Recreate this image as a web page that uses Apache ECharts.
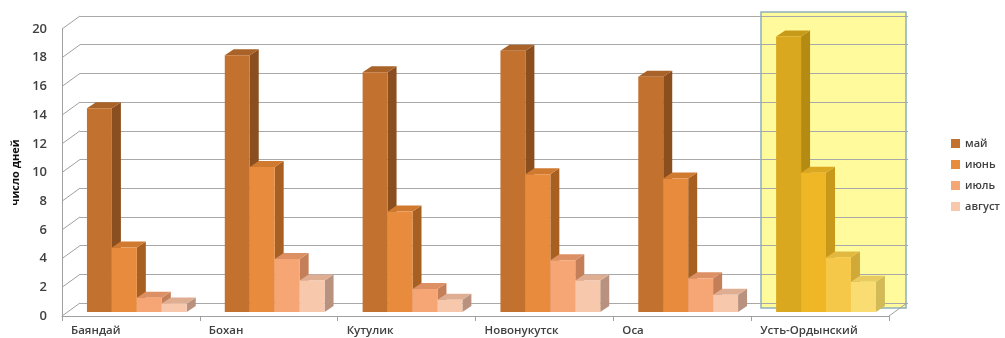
<!DOCTYPE html>
<html>
<head>
<meta charset="utf-8">
<script src="https://cdn.jsdelivr.net/npm/echarts@6/dist/echarts.min.js"></script>
<style>
  html, body { margin: 0; padding: 0; background: #fff; }
  #chart { width: 1005px; height: 338px; }
</style>
</head>
<body>
<div id="chart"></div>
<script>
// data
const categories = ["Баяндай", "Бохан", "Кутулик", "Новонукутск", "Оса", "Усть-Ордынский"];
const months = ["май", "июнь", "июль", "август"];
const may = [14.2, 17.9, 16.7, 18.2, 16.4, 19.2];
const june = [4.5, 10.1, 7.0, 9.6, 9.3, 9.7];
const july = [1.0, 3.7, 1.6, 3.6, 2.35, 3.8];
const august = [0.6, 2.2, 0.85, 2.2, 1.2, 2.1];
const yTicks = [0, 2, 4, 6, 8, 10, 12, 14, 16, 18, 20];
const highlighted = [5];

// pseudo 3d look
const WALL_DX = 18, WALL_DY = -13;
const BAR_DX = 9, BAR_DY = -6;
const FLOOR_LIFT = 4;
const BAR_START = 0.181, BAR_W = 0.181;

const palette = [
  { front: "#c3712f", side: "#8b4e1e", top: "#a96227", hl: ["#d9a81e", "#b48b12", "#c89a1a"] },
  { front: "#e98b3c", side: "#a85f22", top: "#d07a30", hl: ["#efb626", "#c8981b", "#dca822"] },
  { front: "#f6a574", side: "#c47e58", top: "#dc9064", hl: ["#f6c84a", "#d0a938", "#e2b840"] },
  { front: "#f8c8ac", side: "#b8927f", top: "#dfae92", hl: ["#f9dc72", "#d2ba56", "#e8cc62"] }
];

const textColor = "#404040";
const font = "Open Sans";

function barSeries(name, values, k) {
  const c = palette[k];
  return {
    name: name,
    type: "custom",
    xAxisIndex: 0,
    yAxisIndex: 0,
    z: 5,
    itemStyle: { color: c.front },
    encode: { x: 0, y: 1 },
    data: values.map((v, i) => [i, v]),
    renderItem: function (params, api) {
      const cat = api.value(0);
      const topPt = api.coord([cat, api.value(1)]);
      const basePt = api.coord([cat, 0]);
      const bw = api.size([1, 0])[0];
      const w = bw * BAR_W;
      const x0 = topPt[0] - bw / 2 + bw * BAR_START + k * w;
      const x1 = x0 + w;
      const yb = basePt[1] - FLOOR_LIFT;
      const yt = topPt[1] - FLOOR_LIFT;
      const hl = highlighted.indexOf(cat) >= 0;
      const front = hl ? c.hl[0] : c.front;
      const side = hl ? c.hl[1] : c.side;
      const top = hl ? c.hl[2] : c.top;
      return {
        type: "group",
        children: [
          { type: "polygon", shape: { points: [[x1, yb], [x1 + BAR_DX, yb + BAR_DY], [x1 + BAR_DX, yt + BAR_DY], [x1, yt]] }, style: { fill: side } },
          { type: "polygon", shape: { points: [[x0, yt], [x0 + BAR_DX, yt + BAR_DY], [x1 + BAR_DX, yt + BAR_DY], [x1, yt]] }, style: { fill: top } },
          { type: "rect", shape: { x: x0, y: yt, width: w, height: yb - yt }, style: { fill: front } }
        ]
      };
    }
  };
}

const chart = echarts.init(document.getElementById("chart"), null, { renderer: "canvas" });

chart.setOption({
  backgroundColor: "#fff",
  animation: false,
  textStyle: { fontFamily: font },
  legend: {
    data: months,
    orient: "vertical",
    left: 946,
    top: 133,
    itemWidth: 9,
    itemHeight: 9,
    itemGap: 10,
    icon: "rect",
    textStyle: { color: textColor, fontSize: 11, fontWeight: 600, fontFamily: font }
  },
  grid: [
    { left: 62, right: 116, top: 29, bottom: 22 },
    { left: 80, right: 97, top: 16, bottom: 35 }
  ],
  xAxis: [
    {
      type: "category", gridIndex: 0, data: categories,
      axisLine: { show: true, lineStyle: { color: "#a0a0a0" } },
      axisTick: { show: true, length: 5, lineStyle: { color: "#a0a0a0" } },
      axisLabel: { show: false },
      splitLine: { show: false }
    },
    {
      type: "value", gridIndex: 0, min: 0, max: 6, interval: 1, position: "bottom",
      axisLine: { show: false }, axisTick: { show: false }, splitLine: { show: false },
      axisLabel: {
        formatter: v => categories[v] || "",
        align: "left", padding: [0, 0, 0, 9], margin: 9,
        color: textColor, fontSize: 11.5, fontWeight: 600, fontFamily: font,
        showMaxLabel: false
      }
    },
    { type: "category", gridIndex: 1, data: categories, show: false }
  ],
  yAxis: [
    {
      type: "value", gridIndex: 0, min: 0, max: 20, interval: 2,
      name: "число дней", nameLocation: "middle", nameRotate: 90, nameGap: 40,
      nameTextStyle: { color: "#111", fontSize: 11, fontWeight: "bold", fontFamily: font },
      axisLine: { show: true, lineStyle: { color: "#a0a0a0" } },
      axisTick: { show: false },
      splitLine: { show: false },
      axisLabel: { color: textColor, fontSize: 13, fontWeight: 600, margin: 15, fontFamily: font }
    },
    {
      type: "value", gridIndex: 1, min: 0, max: 20, interval: 2, z: 3,
      axisLine: { show: false }, axisTick: { show: false }, axisLabel: { show: false },
      splitLine: { show: true, lineStyle: { color: "#a8a8a8", width: 1 } }
    }
  ],
  series: [
    {
      name: "highlight",
      type: "custom",
      xAxisIndex: 2,
      yAxisIndex: 1,
      z: 1,
      silent: true,
      data: highlighted.map(i => [i, 0]),
      renderItem: function (params, api) {
        const cs = params.coordSys;
        const c = api.coord([api.value(0), 0]);
        const bw = api.size([1, 0])[0];
        const x0 = c[0] - bw / 2 - 9;
        const x1 = c[0] + bw / 2 - 2;
        return {
          type: "rect",
          shape: { x: x0, y: cs.y - 4, width: x1 - x0, height: cs.height + 9 },
          style: { fill: "#fffa9c", stroke: "#8fb0b8", lineWidth: 1.5 }
        };
      }
    },
    {
      name: "walls",
      type: "custom",
      xAxisIndex: 0,
      yAxisIndex: 0,
      z: 3,
      silent: true,
      data: yTicks.map(v => [0, v]),
      renderItem: function (params, api) {
        const cs = params.coordSys;
        const p = api.coord([0, api.value(1)]);
        const lines = [
          { type: "line", shape: { x1: cs.x, y1: p[1], x2: cs.x + WALL_DX, y2: p[1] + WALL_DY }, style: { stroke: "#a0a0a0", lineWidth: 1 } }
        ];
        if (params.dataIndex === 0) {
          const xr = cs.x + cs.width;
          lines.push({ type: "line", shape: { x1: xr, y1: p[1], x2: xr + WALL_DX, y2: p[1] + WALL_DY }, style: { stroke: "#a0a0a0", lineWidth: 1 } });
        }
        return { type: "group", children: lines };
      }
    },
    barSeries(months[0], may, 0),
    barSeries(months[1], june, 1),
    barSeries(months[2], july, 2),
    barSeries(months[3], august, 3)
  ]
});
</script>
</body>
</html>
